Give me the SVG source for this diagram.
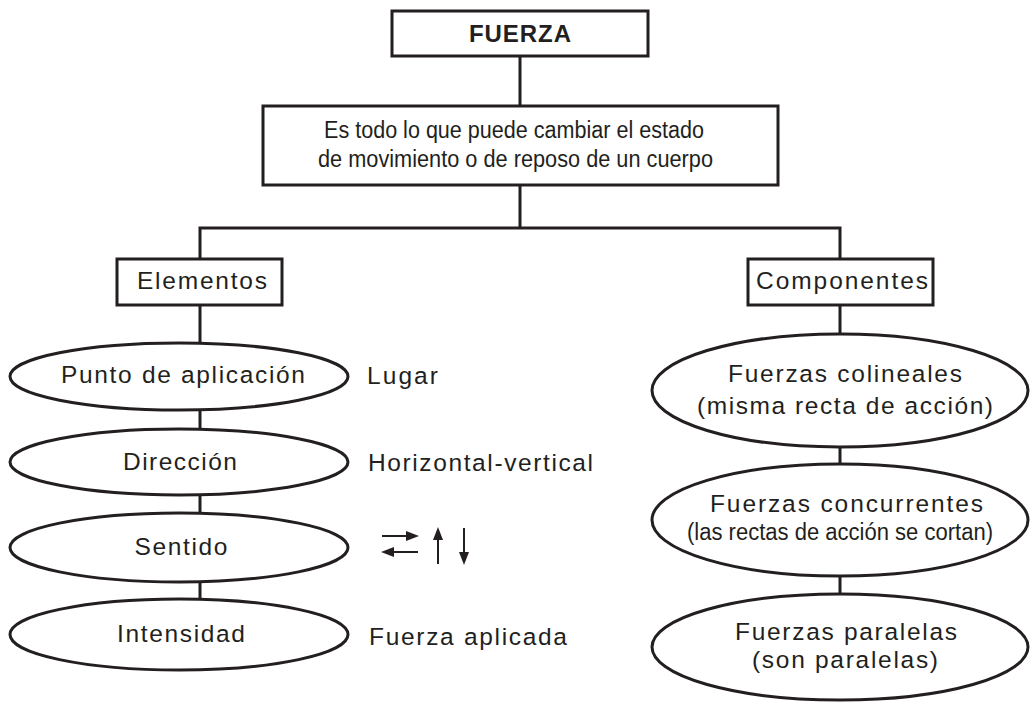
<svg xmlns="http://www.w3.org/2000/svg" width="1030" height="706" viewBox="0 0 1030 706">
<defs>
<style>
.box{fill:#fff;stroke:#231f20;stroke-width:3}
.ell{fill:#fff;stroke:#231f20;stroke-width:3}
.con{fill:none;stroke:#231f20;stroke-width:3}
.t{font-family:"Liberation Sans",Arial,sans-serif;fill:#231f20;font-size:24.5px;text-anchor:middle}
.tl{font-family:"Liberation Sans",Arial,sans-serif;fill:#231f20;font-size:24.5px}
.tc{font-family:"Liberation Sans",Arial,sans-serif;fill:#231f20;font-size:23px;text-anchor:middle}
.b{font-weight:bold;font-size:24px}
.arr{stroke:#231f20;stroke-width:2;fill:none}
.ah{fill:#231f20}
</style>
</defs>
<rect width="1030" height="706" fill="#fff"/>
<g id="connectors">
<line class="con" x1="520" y1="56" x2="520" y2="106"/>
<polyline class="con" points="520,185 520,228"/>
<polyline class="con" points="200,259 200,228 840,228 840,259"/>
<line class="con" x1="200" y1="305" x2="200" y2="343"/>
<line class="con" x1="200" y1="410" x2="200" y2="429"/>
<line class="con" x1="200" y1="495" x2="200" y2="513"/>
<line class="con" x1="200" y1="582" x2="200" y2="599"/>
<line class="con" x1="840" y1="305" x2="840" y2="334"/>
<line class="con" x1="840" y1="447" x2="840" y2="464"/>
<line class="con" x1="840" y1="576" x2="840" y2="594"/>
</g>
<g id="fuerza">
<rect class="box" x="392" y="11" width="256" height="45"/>
<text class="t b" x="520" y="42" textLength="102" lengthAdjust="spacing">FUERZA</text>
</g>
<g id="definicion">
<rect class="box" x="263" y="106" width="515" height="79"/>
<text class="tc" x="514" y="138" textLength="380" lengthAdjust="spacingAndGlyphs">Es todo lo que puede cambiar el estado</text>
<text class="tc" x="515.5" y="167" textLength="395" lengthAdjust="spacingAndGlyphs">de movimiento o de reposo de un cuerpo</text>
</g>
<g id="elementos">
<rect class="box" x="117" y="259" width="165" height="46"/>
<text class="t" x="202" y="289" textLength="130" lengthAdjust="spacing">Elementos</text>
</g>
<g id="componentes">
<rect class="box" x="748" y="259" width="185" height="46"/>
<text class="t" x="842" y="289" textLength="172" lengthAdjust="spacing">Componentes</text>
</g>
<g id="punto">
<ellipse class="ell" cx="179" cy="376.5" rx="169" ry="33.5"/>
<text class="t" x="183" y="383" textLength="244" lengthAdjust="spacing">Punto de aplicación</text>
</g>
<g id="direccion">
<ellipse class="ell" cx="179" cy="462" rx="169" ry="33"/>
<text class="t" x="180" y="470" textLength="114" lengthAdjust="spacing">Dirección</text>
</g>
<g id="sentido">
<ellipse class="ell" cx="179" cy="547.5" rx="169" ry="34.5"/>
<text class="t" x="181" y="555" textLength="93" lengthAdjust="spacing">Sentido</text>
</g>
<g id="intensidad">
<ellipse class="ell" cx="179" cy="634.5" rx="169" ry="35.5"/>
<text class="t" x="181" y="642" textLength="128" lengthAdjust="spacing">Intensidad</text>
</g>
<g id="lugar">
<text class="tl" x="367" y="384" textLength="71" lengthAdjust="spacing">Lugar</text>
</g>
<g id="horizontal">
<text class="tl" x="368" y="471" textLength="225" lengthAdjust="spacing">Horizontal-vertical</text>
</g>
<g id="sentido-flechas">
<line class="arr" x1="382" y1="536" x2="408" y2="536"/>
<polygon class="ah" points="419,536 406,531 406,541"/>
<line class="arr" x1="392" y1="552" x2="418" y2="552"/>
<polygon class="ah" points="381,552 394,547 394,557"/>
<line class="arr" x1="438" y1="538" x2="438" y2="564"/>
<polygon class="ah" points="438,527 433,540 443,540"/>
<line class="arr" x1="464" y1="528" x2="464" y2="554"/>
<polygon class="ah" points="464,565 459,552 469,552"/>
</g>
<g id="fuerza-aplicada">
<text class="tl" x="369" y="645" textLength="198" lengthAdjust="spacing">Fuerza aplicada</text>
</g>
<g id="colineales">
<ellipse class="ell" cx="840" cy="390.5" rx="188" ry="56.5"/>
<text class="t" x="845" y="382" textLength="234" lengthAdjust="spacing">Fuerzas colineales</text>
<text class="t" x="845" y="414" textLength="296" lengthAdjust="spacing">(misma recta de acción)</text>
</g>
<g id="concurrentes">
<ellipse class="ell" cx="840" cy="520" rx="188" ry="56"/>
<text class="t" x="846.5" y="512" textLength="273" lengthAdjust="spacing">Fuerzas concurrentes</text>
<text class="tc" x="840" y="540" textLength="306" lengthAdjust="spacingAndGlyphs">(las rectas de acción se cortan)</text>
</g>
<g id="paralelas">
<ellipse class="ell" cx="840" cy="647" rx="188" ry="53"/>
<text class="t" x="846" y="640" textLength="222" lengthAdjust="spacing">Fuerzas paralelas</text>
<text class="t" x="845" y="668" textLength="186" lengthAdjust="spacing">(son paralelas)</text>
</g>
</svg>
